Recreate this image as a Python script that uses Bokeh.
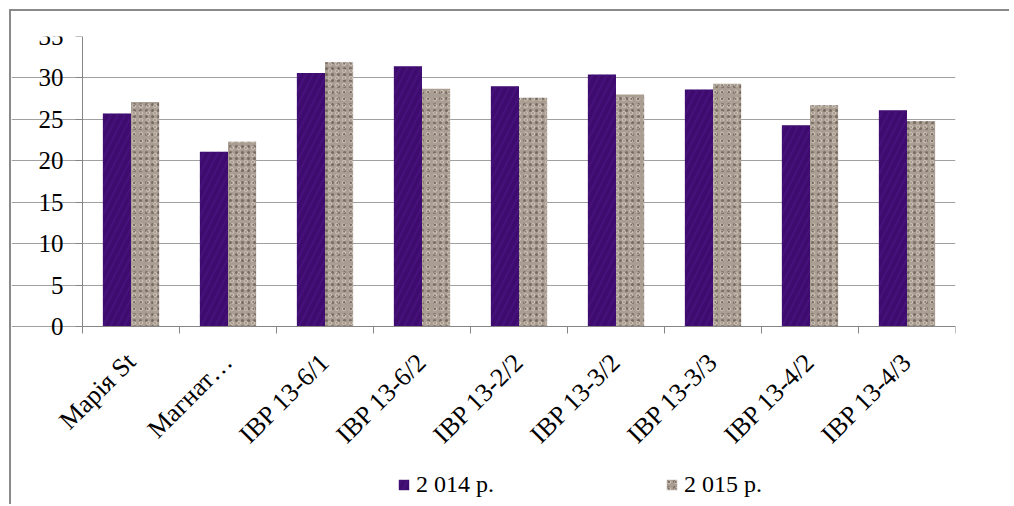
import math
from bokeh.plotting import figure
from bokeh.models import (ColumnDataSource, Range1d, LinearAxis,
                          FixedTicker, Legend, LegendItem)
from bokeh.transform import dodge
from bokeh.embed import file_html
from bokeh.resources import INLINE

categories = ["Марія St", "Магнат…", "IBP 13-6/1", "IBP 13-6/2", "IBP 13-2/2",
              "IBP 13-3/2", "IBP 13-3/3", "IBP 13-4/2", "IBP 13-4/3"]
values_2014 = [25.7, 21.1, 30.6, 31.4, 29.0, 30.4, 28.6, 24.3, 26.1]
values_2015 = [27.1, 22.3, 31.9, 28.7, 27.6, 28.0, 29.3, 26.7, 24.8]
series_labels = ["2 014 р.", "2 015 р."]
y_ticks = [0, 5, 10, 15, 20, 25, 30, 35]

FONT = "Liberation Serif"
AXIS_GREY = "#868686"

n = len(categories)
centers = [i + 0.5 for i in range(n)]
bounds = list(range(n + 1))

# layout: value axis uses 290px for 0..35 and the frame extends 175px lower;
# category area uses 873px for n categories, with 71px of room left of it
Y_MAX = 35
AXIS_PX, EXTRA_PX = 290, 175
y_min = -EXTRA_PX * Y_MAX / AXIS_PX
CAT_PX, LEFT_PX = 873, 71
x_min = -LEFT_PX * n / CAT_PX

source = ColumnDataSource(dict(x=centers, cat=categories, v14=values_2014, v15=values_2015))

p = figure(x_range=Range1d(x_min, n), y_range=Range1d(y_min, Y_MAX),
           width=1000, height=495, output_backend="svg", toolbar_location=None,
           x_axis_location=None, y_axis_location="left",
           min_border_left=0, min_border_right=56, min_border_top=25, min_border_bottom=5,
           styles={"margin-left": "9px", "margin-top": "9px",
                   "border-top": "2px solid #8a8a8a", "border-left": "2px solid #8a8a8a"})
p.outline_line_color = None
p.background_fill_color = "white"
p.border_fill_color = "white"

r1 = p.vbar(x=dodge("x", -0.145), top="v14", bottom=0, width=0.29, source=source,
            fill_color="#3d0c6e", line_color=None,
            hatch_pattern="/", hatch_color="#5a1b92", hatch_alpha=0.35, hatch_scale=14, hatch_weight=2)
r2 = p.vbar(x=dodge("x", 0.145), top="v15", bottom=0, width=0.29, source=source,
            fill_color="#aa9e92", line_color=None,
            hatch_pattern=".", hatch_color="#4a4038", hatch_alpha=0.55, hatch_scale=6, hatch_weight=1)
r2b = p.vbar(x=dodge("x", 0.145), top="v15", bottom=0, width=0.29, source=source,
             fill_alpha=0, line_color=None,
             hatch_pattern="o", hatch_color="#e6ddd2", hatch_alpha=0.45, hatch_scale=7, hatch_weight=1)

# y axis, drawn at the left edge of the category area
yax = p.yaxis[0]
yax.fixed_location = 0
yax.ticker = FixedTicker(ticks=y_ticks)
yax.bounds = (0, Y_MAX)
yax.axis_line_color = AXIS_GREY
yax.major_tick_line_color = AXIS_GREY
yax.major_tick_in = 0
yax.major_tick_out = 7
yax.minor_tick_line_color = None
yax.major_label_standoff = 12
yax.major_label_text_font = FONT
yax.major_label_text_font_size = "25px"
yax.major_label_text_color = "black"

p.ygrid.ticker = FixedTicker(ticks=y_ticks)
p.ygrid.bounds = (0, n)
p.ygrid.grid_line_color = "#a0a0a0"
for g in p.xgrid:
    g.visible = False

# boundary ticks axis (category separators), drawn at value 0
ax_b = LinearAxis(ticker=FixedTicker(ticks=bounds), fixed_location=0, bounds=(0, n),
                  major_label_overrides={b: "" for b in bounds},
                  major_label_text_font_size="0px", major_label_standoff=0,
                  major_tick_in=0, major_tick_out=7, minor_tick_line_color=None,
                  axis_line_color=AXIS_GREY, major_tick_line_color=AXIS_GREY)
p.add_layout(ax_b, "below")

# category label axis
ax_c = LinearAxis(ticker=FixedTicker(ticks=centers), fixed_location=0,
                  major_label_overrides={c: name for c, name in zip(centers, categories)},
                  axis_line_color=None, major_tick_line_color=None,
                  minor_tick_line_color=None, major_tick_out=0, major_tick_in=0,
                  major_label_orientation=math.pi / 4, major_label_standoff=31,
                  major_label_text_font=FONT, major_label_text_font_size="26px",
                  major_label_text_color="black")
p.add_layout(ax_c, "below")

legend = Legend(items=[LegendItem(label=series_labels[0], renderers=[r1]),
                       LegendItem(label=series_labels[1], renderers=[r2, r2b])],
                location=(315 + LEFT_PX, 3), orientation="horizontal",
                glyph_width=13, glyph_height=13, label_standoff=6, spacing=0,
                label_width=249, padding=0, margin=0,
                border_line_alpha=0, background_fill_alpha=0,
                label_text_font=FONT, label_text_font_size="24px", label_text_color="black")
p.add_layout(legend)

open("out.html", "w").write(file_html(p, INLINE))
